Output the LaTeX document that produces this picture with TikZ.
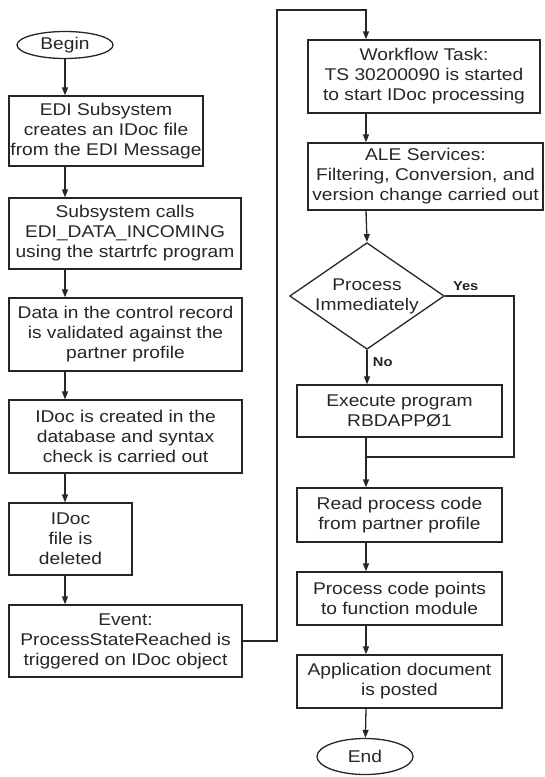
\documentclass[tikz,border=0pt]{standalone}
\usepackage{fontspec}
\setmainfont{Liberation Sans}[FakeStretch=1.13]
\usetikzlibrary{arrows.meta,shapes.geometric}
\begin{document}
\begin{tikzpicture}[x=1pt,y=-1pt,
  line width=1.3pt, draw=black!85,
  every node/.style={font=\fontsize{17}{20}\selectfont, text=black!85},
  box/.style={draw, rectangle, align=center, inner sep=0pt},
  term/.style={draw, ellipse, inner sep=0pt},
  decide/.style={draw, diamond, aspect=1.45, inner sep=0pt, align=center},
  arr/.style={-{Triangle[length=8pt,width=6pt]}},
  lbl/.style={font=\fontsize{13}{15}\selectfont\bfseries}]
\useasboundingbox (0,0) rectangle (544,777);

% left column
\node[term, minimum width=96pt, minimum height=27pt] (begin) at (65,45) {Begin};
\node[box, minimum width=194pt, minimum height=70pt] (b1) at (106,131)
  {EDI Subsystem\\creates an IDoc file\\from the EDI Message};
\node[box, minimum width=232pt, minimum height=71pt] (b2) at (125,233.5)
  {Subsystem calls\\EDI\_DATA\_INCOMING\\using the startrfc program};
\node[box, minimum width=233pt, minimum height=73pt] (b3) at (125.5,334.5)
  {Data in the control record\\is validated against the\\partner profile};
\node[box, minimum width=233pt, minimum height=73pt] (b4) at (125.5,436.5)
  {IDoc is created in the\\database and syntax\\check is carried out};
\node[box, minimum width=123pt, minimum height=72pt] (b5) at (70.5,539)
  {IDoc\\file is\\deleted};
\node[box, minimum width=233pt, minimum height=72pt] (b6) at (125.5,641)
  {Event:\\ProcessStateReached is\\triggered on IDoc object};

% right column
\coordinate (rx) at (366,0);
\node[box, minimum width=232pt, minimum height=73pt] (r1) at (424,76.5)
  {Workflow Task:\\TS 30200090 is started\\to start IDoc processing};
\node[box, minimum width=235pt, minimum height=67pt] (r2) at (425.5,176.5)
  {ALE Services:\\Filtering, Conversion, and\\version change carried out};
\node[decide, minimum width=145pt, minimum height=100pt] (d) at (367,296)
  {Process\\Immediately};
\node[box, minimum width=205pt, minimum height=52pt] (r3) at (399.5,411)
  {Execute program\\RBDAPP\O1};
\node[box, minimum width=205pt, minimum height=54pt] (r4) at (399.5,515)
  {Read process code\\from partner profile};
\node[box, minimum width=205pt, minimum height=53pt] (r5) at (399.5,598.5)
  {Process code points\\to function module};
\node[box, minimum width=205pt, minimum height=53pt] (r6) at (399.5,681.5)
  {Application document\\is posted};
\node[term, minimum width=96pt, minimum height=36pt] (end) at (365,756.5) {End};

% connectors, left column
\draw[arr] (begin) -- (b1.north -| begin);
\draw[arr] (b1.south -| begin) -- (b2.north -| begin);
\draw[arr] (b2.south -| begin) -- (b3.north -| begin);
\draw[arr] (b3.south -| begin) -- (b4.north -| begin);
\draw[arr] (b4.south -| begin) -- (b5.north -| begin);
\draw[arr] (b5.south -| begin) -- (b6.north -| begin);

% hand-over to the right column
\coordinate (up) at (277,10);
\draw[arr] (b6.east) -| (up) -| (r1.north -| rx);

% connectors, right column
\draw[arr] (r1.south -| rx) -- (r2.north -| rx);
\draw[arr] (r2.south -| rx) -- (d.north);
\draw[arr] (d.south) -- node[lbl, right, pos=0.35, xshift=2pt] {No} (r3.north -| d);
\coordinate (yx) at (514,0);
\coordinate (join) at (366,457);
\draw (d.east) -- node[lbl, above, pos=0.3, yshift=1pt] {Yes} (d.east -| yx) |- (join);
\draw (r3.south -| rx) -- (join);
\draw[arr] (join) -- (r4.north -| rx);
\draw[arr] (r4.south -| rx) -- (r5.north -| rx);
\draw[arr] (r5.south -| rx) -- (r6.north -| rx);
\draw[arr] (r6.south -| rx) -- (end);
\end{tikzpicture}
\end{document}
